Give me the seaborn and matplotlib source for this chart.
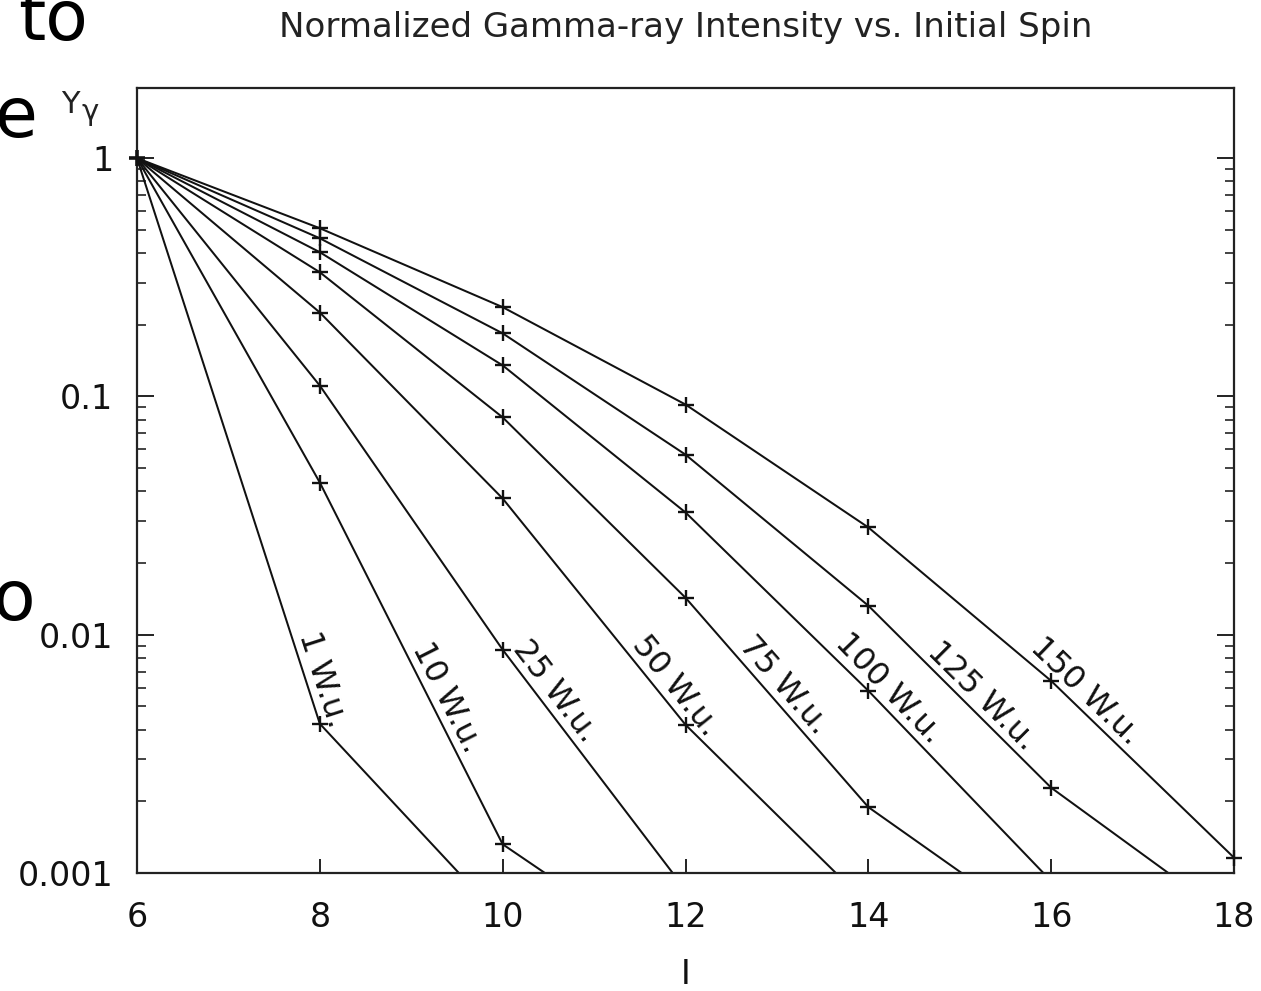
import numpy as np
import pandas as pd
import matplotlib
matplotlib.use("Agg")
import matplotlib.pyplot as plt
import seaborn as sns

# Initial spin values
spins = [6, 8, 10, 12, 14, 16, 18]

# Normalized gamma-ray intensity for each transition strength (W.u.)
y_1 = [1.0, 0.00423, 0.000635, 0.0002, 0.0001, 0.00005, 0.00003]
y_10 = [1.0, 0.0435, 0.00132, 0.000397, 0.0002, 0.0001, 0.00005]
y_25 = [1.0, 0.111, 0.00865, 0.00085, 0.0003, 0.0001, 0.00005]
y_50 = [1.0, 0.225, 0.0373, 0.00419, 0.000734, 0.0002, 0.0001]
y_75 = [1.0, 0.332, 0.0817, 0.0143, 0.00189, 0.000543, 0.0002]
y_100 = [1.0, 0.403, 0.135, 0.0326, 0.00582, 0.000925, 0.0003]
y_125 = [1.0, 0.461, 0.184, 0.057, 0.01324, 0.00228, 0.00063]
y_150 = [1.0, 0.508, 0.237, 0.0925, 0.0282, 0.0064, 0.00116]

series_names = ["1 W.u.", "10 W.u.", "25 W.u.", "50 W.u.", "75 W.u.",
                "100 W.u.", "125 W.u.", "150 W.u."]
series_values = [y_1, y_10, y_25, y_50, y_75, y_100, y_125, y_150]

# Spin at which each curve label sits along its line
label_spins = [7.86, 9.23, 10.43, 11.75, 12.94, 14.09, 15.12, 16.25]

y_ticks = [0.001, 0.01, 0.1, 1]
y_tick_labels = ["0.001", "0.01", "0.1", "1"]
x_ticks = [6, 8, 10, 12, 14, 16, 18]

rows = []
for name, vals in zip(series_names, series_values):
    for s, v in zip(spins, vals):
        rows.append({"I": s, "Y": v, "series": name})
df = pd.DataFrame(rows)

sns.set_style("white")
plt.rcParams["font.family"] = ["DejaVu Sans"]

W, H = 1261, 991
fig = plt.figure(figsize=(W / 100, H / 100), dpi=100)
ax = fig.add_axes([137 / W, 1 - 873 / H, (1234 - 137) / W, (873 - 88) / H])

ink = "#111111"
ylo, yhi = 0.001, 1.97

sns.lineplot(data=df, x="I", y="Y", units="series", estimator=None,
             color=ink, linewidth=1.45, ax=ax, legend=False)

visible = df[(df["Y"] >= ylo) & (df["Y"] <= yhi)]
sns.scatterplot(data=visible, x="I", y="Y", marker="+", s=120, color=ink,
                linewidth=1.7, ax=ax, legend=False, clip_on=False, zorder=5)

ax.set_yscale("log")
ax.set_xlim(6, 18)
ax.set_ylim(ylo, yhi)
ax.set_xticks(x_ticks)
ax.set_xticklabels([str(t) for t in x_ticks])
ax.set_yticks(y_ticks)
ax.set_yticklabels(y_tick_labels)
ax.yaxis.set_minor_locator(matplotlib.ticker.LogLocator(base=10, subs=np.arange(2, 10)))
ax.yaxis.set_minor_formatter(matplotlib.ticker.NullFormatter())
ax.set_xlabel("")
ax.set_ylabel("")

ax.tick_params(axis="x", which="major", direction="in", length=10, width=1.3,
               labelsize=24, pad=20, colors=ink, top=False, bottom=True)
ax.tick_params(axis="y", which="major", direction="in", length=12.5, width=1.3,
               labelsize=24, pad=17, colors=ink, left=True, right=True)
ax.tick_params(axis="y", which="minor", direction="in", length=6.5, width=1.1,
               left=True, right=True, colors=ink)
for sp in ax.spines.values():
    sp.set_linewidth(1.6)
    sp.set_color("#222222")
    sp.set_visible(True)

# Curve labels, rotated along each line and lifted off it
fig.canvas.draw()
spin_arr = np.array(spins, dtype=float)
for name, vals, lx in zip(series_names, series_values, label_spins):
    lv = np.log10(vals)
    ly = 10 ** np.interp(lx, spin_arr, lv)
    i = int(np.searchsorted(spin_arr, lx, side="right"))
    i = min(max(i, 1), len(spins) - 1)
    p0 = ax.transData.transform((spins[i - 1], vals[i - 1]))
    p1 = ax.transData.transform((spins[i], vals[i]))
    ang = np.degrees(np.arctan2(p1[1] - p0[1], p1[0] - p0[0]))
    nrm = np.array([-np.sin(np.radians(ang)), np.cos(np.radians(ang))])
    off = 16 * nrm
    ax.annotate(name, (lx, ly), xytext=(off[0], off[1]), textcoords="offset pixels",
                rotation=ang, rotation_mode="anchor", ha="center", va="center",
                fontsize=23, color=ink)

# Titles and axis names
fig.text(686 / W, 1 - 27 / H, "Normalized Gamma-ray Intensity vs. Initial Spin",
         ha="center", va="center", fontsize=24.5, color="#222222")
fig.text(686 / W, 1 - 975 / H, "I", ha="center", va="center", fontsize=24, color=ink)
fig.text(61 / W, 1 - 113 / H, "Y", ha="left", va="baseline", fontsize=22, color="#222222")
fig.text(82 / W, 1 - 120 / H, "\u03b3", ha="left", va="baseline", fontsize=21, color="#222222")

# Surrounding body text fragments
fig.text(18 / W, 1 - 40 / H, "to", ha="left", va="baseline", fontsize=50, color="black")
fig.text(-6 / W, 1 - 137 / H, "e", ha="left", va="baseline", fontsize=50, color="black")
fig.text(-8 / W, 1 - 620 / H, "o", ha="left", va="baseline", fontsize=50, color="black")

fig.savefig("out.png", dpi=100)
